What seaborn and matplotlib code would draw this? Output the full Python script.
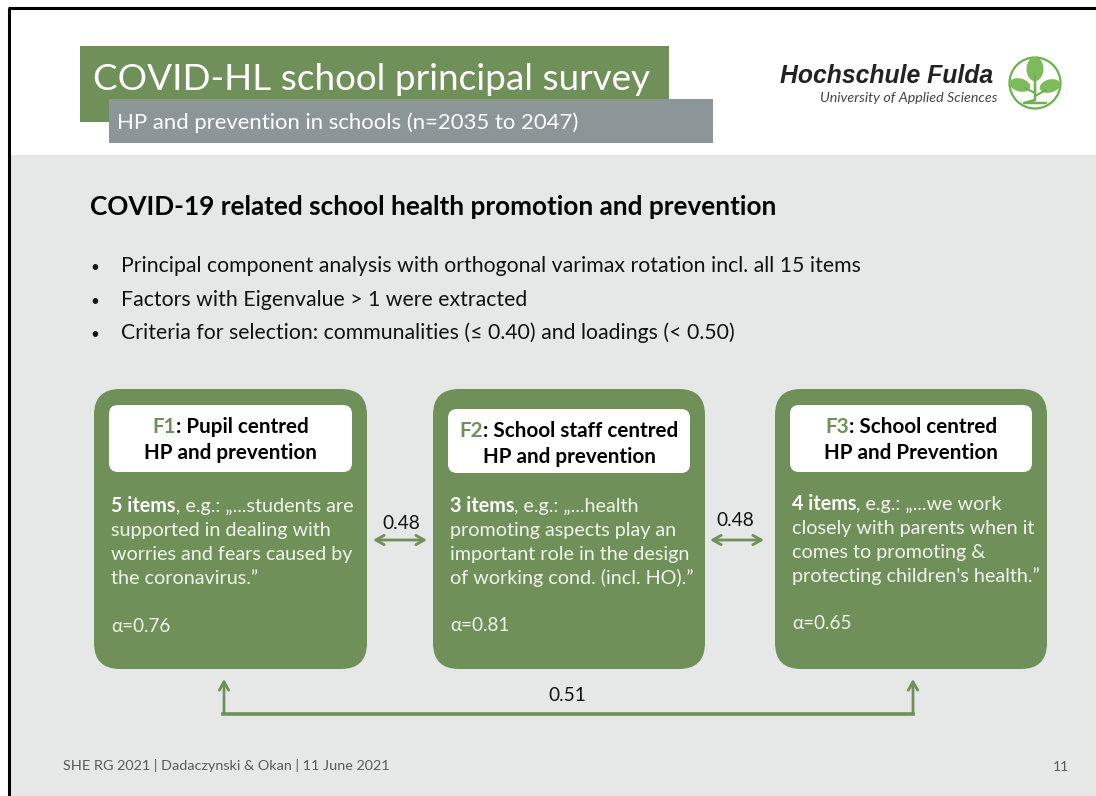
import seaborn as sns
import matplotlib.pyplot as plt
from matplotlib.patches import Rectangle, FancyBboxPatch, Circle, Ellipse

sns.set_theme(style="white")
plt.rcParams['font.family'] = ['Lato', 'DejaVu Sans']

GREEN = '#6f9058'
GREY = '#8c9598'
BG = '#e6e8e7'
INK = '#111111'

title = 'COVID-HL school principal survey'
subtitle = 'HP and prevention in schools (n=2035 to 2047)'
heading = 'COVID-19 related school health promotion and prevention'
bullets = ['Principal component analysis with orthogonal varimax rotation incl. all 15 items',
           'Factors with Eigenvalue > 1 were extracted',
           'Criteria for selection: communalities (≤ 0.40) and loadings (< 0.50)']
factors = ['F1', 'F2', 'F3']
factor_names = [': Pupil centred', ': School staff centred', ': School centred']
factor_second = ['HP and prevention', 'HP and prevention', 'HP and Prevention']
item_counts = ['5 items', '3 items', '4 items']
first_lines = [', e.g.: „...students are', ', e.g.: „...health', ', e.g.: „...we work']
other_lines = [['supported in dealing with', 'worries and fears caused by', 'the coronavirus.”'],
               ['promoting aspects play an', 'important role in the design', 'of working cond. (incl. HO).”'],
               ['closely with parents when it', 'comes to promoting &', "protecting children's health.”"]]
alphas = ['α=0.76', 'α=0.81', 'α=0.65']
correlations = ['0.48', '0.48', '0.51']
footer = 'SHE RG 2021 | Dadaczynski & Okan | 11 June 2021'
page = '11'

fig = plt.figure(figsize=(10.96, 7.96), dpi=100, facecolor='white')
ax = fig.add_axes([0, 0, 1, 1])
ax.set_xlim(0, 1096)
ax.set_ylim(796, 0)
ax.axis('off')


def rect(x0, y0, x1, y1, color, z=1):
    ax.add_patch(Rectangle((x0, y0), x1 - x0, y1 - y0, fc=color, ec='none', zorder=z))


def rounded(x0, y0, x1, y1, r, color, z=2):
    ax.add_patch(FancyBboxPatch((x0 + r, y0 + r), x1 - x0 - 2 * r, y1 - y0 - 2 * r,
                                boxstyle='round,pad=%s,rounding_size=%s' % (r, r),
                                fc=color, ec='none', zorder=z))


def runs(x, y, parts, size, z=5):
    # text pieces of different style side by side on one baseline
    rend = fig.canvas.get_renderer()
    for s, color, weight in parts:
        t = ax.text(x, y, s, color=color, fontsize=size, fontweight=weight,
                    va='baseline', ha='left', zorder=z)
        x += t.get_window_extent(rend).width
    return x


def arrow(x0, y0, x1, y1, style, lw=2.0):
    ax.annotate('', xy=(x1, y1), xytext=(x0, y0), zorder=4,
                arrowprops=dict(arrowstyle=style + ',head_length=0.5,head_width=0.28',
                                color=GREEN, lw=lw, shrinkA=0, shrinkB=0))


# page background and frame
rect(8, 155, 1096, 796, BG, 0)
ax.plot([9, 9], [8, 796], color='black', lw=2.2, zorder=6, solid_capstyle='butt')
ax.plot([8, 1096], [8, 8], color='black', lw=2.2, zorder=6, solid_capstyle='butt')

# header
rect(80, 46, 669, 122, GREEN, 1)
rect(109, 99, 713, 143, GREY, 2)
ax.text(93, 90, title, color='white', fontsize=26.6, va='baseline', ha='left', zorder=3)
ax.text(117, 129, subtitle, color='white', fontsize=15.9, va='baseline', ha='left', zorder=3)

# logo
ax.text(780, 83, 'Hochschule Fulda', color='#222222', fontsize=17.85, fontweight='bold',
        fontstyle='italic', family='Liberation Sans', va='baseline', ha='left', zorder=3)
ax.text(997, 102, 'University of Applied Sciences', color='#444444', fontsize=10.3,
        fontstyle='italic', va='baseline', ha='right', zorder=3)
ax.add_patch(Circle((1035, 83), 25.5, fc='white', ec='#6cb24a', lw=1.6, zorder=3))
ax.add_patch(Ellipse((1035, 69), 17, 24, fc='#7dbb5c', ec='none', zorder=4))
ax.add_patch(Ellipse((1020, 85), 21, 13, angle=15, fc='#7dbb5c', ec='none', zorder=4))
ax.add_patch(Ellipse((1050, 86), 21, 13, angle=-15, fc='#7dbb5c', ec='none', zorder=4))
ax.plot([1035, 1035, 1024, 1046], [76, 100, 103, 103], color='#6cb24a', lw=1.8, zorder=4)
ax.plot([1035, 1046], [96, 90], color='#6cb24a', lw=1.5, zorder=4)
ax.plot([1035, 1025], [93, 88], color='#6cb24a', lw=1.5, zorder=4)

# heading and bullets
ax.text(90, 215, heading, color='black', fontsize=18.77, fontweight='bold',
        va='baseline', ha='left', zorder=3)
for y, b in zip([272, 306, 339], bullets):
    ax.text(90, y, '•', color=INK, fontsize=11, va='baseline', ha='left', zorder=3)
    ax.text(121, y, b, color=INK, fontsize=15.35, va='baseline', ha='left', zorder=3)

# factor boxes
box_x = [(94, 367), (433, 705), (775, 1047)]
head_box = [(109, 405, 352, 472), (448, 409, 690, 473), (790, 405, 1032, 472)]
text_x = [111, 450, 792]
first_y = [512, 512, 510]
alpha_y = [632, 631, 629]
HEAD_SIZE = 14.9
BODY_SIZE = 14.2

fig.canvas.draw()
rend = fig.canvas.get_renderer()
for i in range(3):
    rounded(box_x[i][0], 389, box_x[i][1], 669, 26, GREEN)
    hx0, hy0, hx1, hy1 = head_box[i]
    rounded(hx0, hy0, hx1, hy1, 9, 'white', 3)
    cx = (hx0 + hx1) / 2
    # measure the first head line to centre the two coloured pieces together
    a = ax.text(0, 0, factors[i], fontsize=HEAD_SIZE, fontweight='bold')
    b = ax.text(0, 0, factor_names[i], fontsize=HEAD_SIZE, fontweight='bold')
    w = a.get_window_extent(rend).width + b.get_window_extent(rend).width
    a.remove()
    b.remove()
    runs(cx - w / 2, hy0 + 28, [(factors[i], GREEN, 'bold'),
                                (factor_names[i], 'black', 'bold')], HEAD_SIZE)
    ax.text(cx, hy0 + 54, factor_second[i], color='black', fontsize=HEAD_SIZE, fontweight='bold',
            va='baseline', ha='center', zorder=5)
    runs(text_x[i], first_y[i], [(item_counts[i], 'white', 'bold'),
                                 (first_lines[i], '#f2f4ef', 'normal')], BODY_SIZE)
    for k, line in enumerate(other_lines[i]):
        ax.text(text_x[i], first_y[i] + 24 * (k + 1), line, color='#f2f4ef', fontsize=BODY_SIZE,
                va='baseline', ha='left', zorder=5)
    ax.text(text_x[i], alpha_y[i], alphas[i], color='#f2f4ef', fontsize=13.6,
            va='baseline', ha='left', zorder=5)

# connections between the factors
arrow(373, 540, 427, 540, '<->')
arrow(710, 540, 764, 540, '<->')
ax.text(401, 529, correlations[0], color=INK, fontsize=13.8, ha='center', va='baseline')
ax.text(735, 526, correlations[1], color=INK, fontsize=13.8, ha='center', va='baseline')
ax.plot([223, 913], [714, 714], color=GREEN, lw=2.6, zorder=4, solid_capstyle='projecting')
arrow(224, 714, 224, 679, '->')
arrow(913, 714, 913, 679, '->')
ax.text(567, 701, correlations[2], color=INK, fontsize=13.8, ha='center', va='baseline')

# footer
ax.text(63, 770, footer, color='#555c5c', fontsize=10.4, va='baseline', ha='left')
ax.text(1069, 771, page, color='#555c5c', fontsize=10, va='baseline', ha='right')

fig.savefig('out.png', dpi=100, facecolor='white')
